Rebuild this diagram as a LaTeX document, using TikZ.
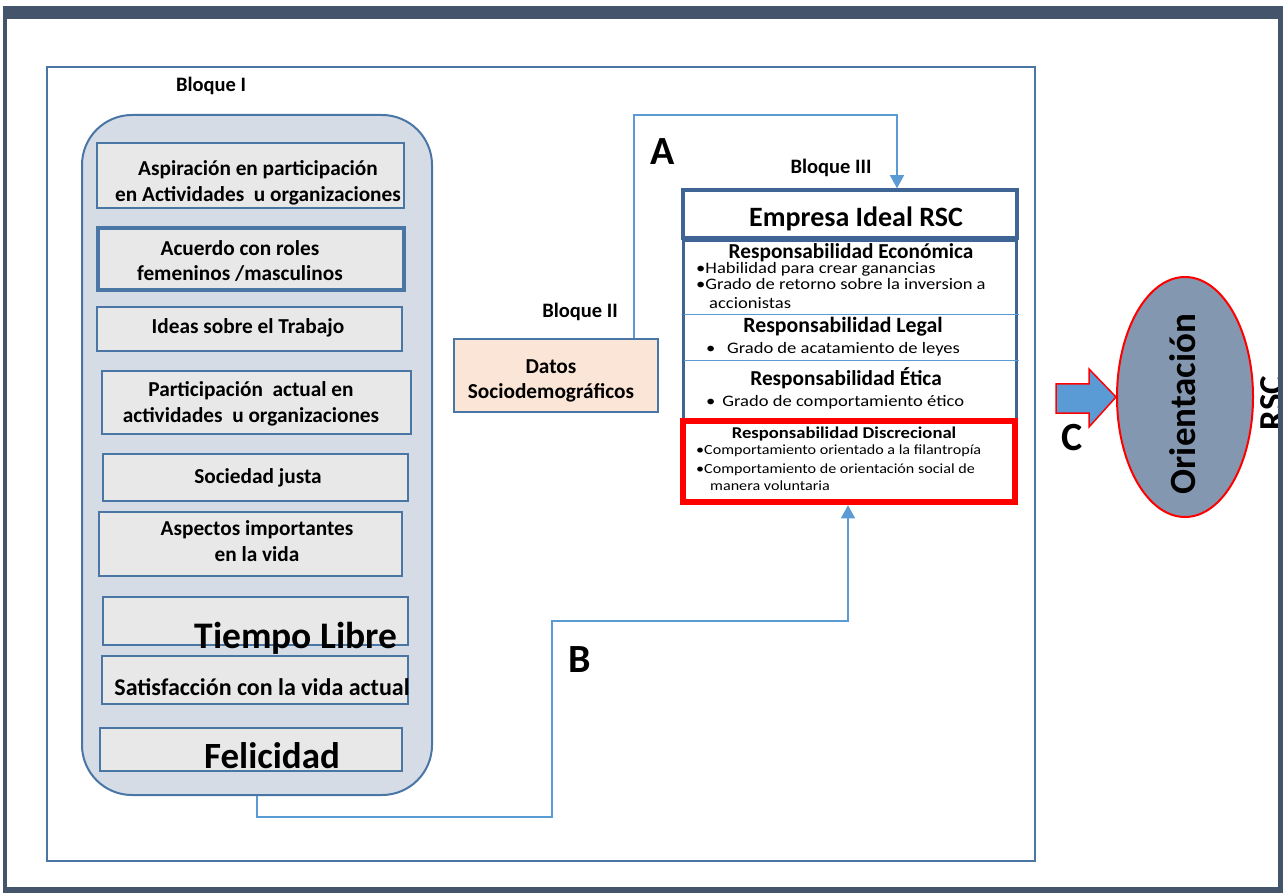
\documentclass[tikz,border=0pt]{standalone}
\usepackage{fontspec}
\setmainfont{Carlito}
\usetikzlibrary{arrows.meta,shapes.geometric}

\definecolor{frameDark}{HTML}{44546A}
\definecolor{frameBlue}{HTML}{4A76A6}
\definecolor{blockFill}{HTML}{D6DCE5}
\definecolor{boxFill}{HTML}{E8E8E8}
\definecolor{lineBlue}{HTML}{5B9BD5}
\definecolor{peach}{HTML}{FBE5D6}
\definecolor{ellFill}{HTML}{8497B0}
\definecolor{headBlue}{HTML}{3F6594}

\newcommand{\setfs}[2]{\fontsize{#1}{#2}\selectfont}
% horizontally widened text
\newcommand{\wide}[2][1.16]{\scalebox{#1}[1]{#2}}

\tikzset{
  lbox/.style={draw=frameBlue, line width=2pt, fill=boxFill, inner sep=0pt},
  txt/.style={inner sep=0pt, align=center, font=\bfseries\setfs{21.3}{25.5}},
  bigtxt/.style={inner sep=0pt, font=\bfseries\setfs{37.5}{40}},
  letter/.style={inner sep=0pt, font=\bfseries\setfs{40}{42}},
  blabel/.style={inner sep=0pt, font=\bfseries\setfs{20.5}{22}},
  bul/.style={inner sep=0pt, anchor=west, font=\setfs{16}{17}},
  sbul/.style={inner sep=0pt, anchor=west, font=\setfs{14}{16}},
  conn/.style={draw=lineBlue, line width=1.2pt},
  tip/.style={-{Triangle[length=13pt,width=14pt]}}
}

\begin{document}
\begin{tikzpicture}[x=1pt,y=-1pt]
\useasboundingbox (0,0) rectangle (1283,893);
\fill[white] (0,0) rectangle (1283,893);

% outer frame (top, left, bottom bands)
\fill[frameDark] (3,6) rectangle (1283,19);
\fill[frameDark] (3,6) rectangle (7,893);
\fill[frameDark] (3,887) rectangle (1283,893);

% inner frame
\draw[frameBlue, line width=2pt] (47,67) rectangle (1035,861);

% ---------- Bloque I ----------
\node[blabel] (lblI) at (211,86) {Bloque I};
\node[draw=frameBlue, line width=2pt, fill=blockFill, rounded corners=50pt,
      minimum width=350pt, minimum height=680pt] (bloqueI) at (257,455) {};

\node[lbox, minimum width=307pt, minimum height=65pt] (b1) at (250.5,175.5) {};
\node[txt] (t1) at (258,183) {Aspiración en participación\\en Actividades\ \ u organizaciones};

\node[lbox, line width=4pt, minimum width=306pt, minimum height=62pt] (b2) at (251,259) {};
\node[txt] (t2) at (240,261) {Acuerdo con roles\\femeninos /masculinos};

\node[lbox, minimum width=305pt, minimum height=44pt] (b3) at (249.5,329) {};
\node[txt] (t3) at (248,328) {Ideas sobre el Trabajo};

\node[lbox, minimum width=309pt, minimum height=63pt] (b4) at (256.5,402.5) {};
\node[txt] (t4) at (251,404) {Participación\ \ actual en\\actividades\ \ u organizaciones};

\node[lbox, minimum width=305pt, minimum height=47pt] (b5) at (255.5,477.5) {};
\node[txt] (t5) at (258,478) {Sociedad justa};

\node[lbox, minimum width=303pt, minimum height=64pt] (b6) at (250.5,544) {};
\node[txt] (t6) at (257,541) {Aspectos importantes\\en la vida};

\node[lbox, minimum width=305pt, minimum height=48pt] (b7) at (255.5,621) {};
\node[bigtxt] (t7) at (296,638) {Tiempo Libre};

\node[lbox, minimum width=306pt, minimum height=48pt] (b8) at (255,680) {};
\node[txt, font=\bfseries\setfs{24}{26}] (t8) at (262,687) {Satisfacción con la vida actual};

\node[lbox, minimum width=302pt, minimum height=43pt] (b9) at (251,749.5) {};
\node[bigtxt, font=\bfseries\setfs{37}{40}] (t9) at (272,756) {Felicidad};

% ---------- Bloque II ----------
\node[blabel] (lblII) at (580,312) {Bloque II};
\node[draw=frameBlue, line width=2pt, fill=peach, minimum width=204pt, minimum height=73pt,
      inner sep=0pt] (datos) at (556,375.5) {};
\node[txt] (tdatos) at (551,381) {Datos\\Sociodemográficos};

% ---------- Bloque III ----------
\node[blabel] (lblIII) at (831,168) {Bloque III};
\node[draw=headBlue, line width=3.5pt, minimum width=334pt, minimum height=48pt,
      inner sep=0pt] (empresa) at (850,214) {};
\node[inner sep=0pt, font=\bfseries\setfs{28}{30}] (tempresa) at (856,219) {Empresa Ideal RSC};

\node[draw=headBlue, line width=3pt, minimum width=333pt, minimum height=262pt,
      inner sep=0pt] (resp) at (849.5,372) {};
\draw[lineBlue, line width=1pt] (684,315) -- (1019,315);
\draw[lineBlue, line width=1pt] (684,361) -- (1019,361);

\node[inner sep=0pt, font=\bfseries\setfs{21.3}{22}] (hEco) at (851,253) {Responsabilidad Económica};
\node[bul] (e1) at (696,269) {\wide{•Habilidad para crear ganancias}};
\node[bul] (e2) at (696,284) {\wide{•Grado de retorno sobre la inversion a}};
\node[bul] (e3) at (709,303) {\wide{accionistas}};

\node[inner sep=0pt, font=\bfseries\setfs{21.8}{22}] (hLeg) at (843,327) {Responsabilidad Legal};
\node[bul] (l1) at (706,349) {\wide{•\hspace{10pt}Grado de acatamiento de leyes}};

\node[inner sep=0pt, font=\bfseries\setfs{21.3}{22}] (hEti) at (846,378) {Responsabilidad Ética};
\node[bul] (et1) at (706,402) {\wide{•\hspace{6pt}Grado de comportamiento ético}};

\node[draw=red, line width=6.5pt, fill=white, minimum width=332pt, minimum height=81pt,
      inner sep=0pt] (discr) at (849,461.5) {};
\node[inner sep=0pt, font=\bfseries\setfs{16.5}{18}] (hDis) at (844,434) {\wide[1.13]{Responsabilidad Discrecional}};
\node[sbul] (d1) at (696,451) {\wide[1.15]{•Comportamiento orientado a la filantropía}};
\node[sbul] (d2) at (696,470) {\wide[1.15]{•Comportamiento de orientación social de}};
\node[sbul] (d3) at (710,486) {\wide[1.15]{manera voluntaria}};

% ---------- connectors ----------
\coordinate (aTurn) at (897,115);
\draw[conn, tip] ([xshift=78pt]datos.north) |- (aTurn) -- ([xshift=47pt]empresa.north);
\node[letter] (lA) at (663,152) {A};

\coordinate (bLow) at (552,817);
\coordinate (bHigh) at (848,621);
\draw[conn, tip] (bloqueI.south) |- (bLow) |- (bHigh) -- ([xshift=-1pt]discr.south);
\node[letter] (lB) at (580,660) {B};

% ---------- Orientacion RSC ----------
\node[draw=red, line width=2pt, fill=ellFill, ellipse, minimum width=136pt,
      minimum height=240pt, inner sep=0pt] (orient) at (1185,397) {};
\node[inner sep=0pt, rotate=90, font=\bfseries\setfs{37}{38}] (torient) at (1183,404) {Orientación};

\draw[red, line width=1.5pt, fill=lineBlue]
  (1056,384) -- (1089,384) -- (1089,369) -- (orient.west) -- (1089,427) -- (1089,413) -- (1056,413) -- cycle;
\node[letter] (lC) at (1072,438) {C};

\node[inner sep=0pt, rotate=90, font=\bfseries\setfs{35}{36}] (trsc) at (1272,403) {RSC};

% right band drawn last so it covers the edge of the label
\fill[frameDark] (1278,6) rectangle (1283,893);
\end{tikzpicture}
\end{document}
